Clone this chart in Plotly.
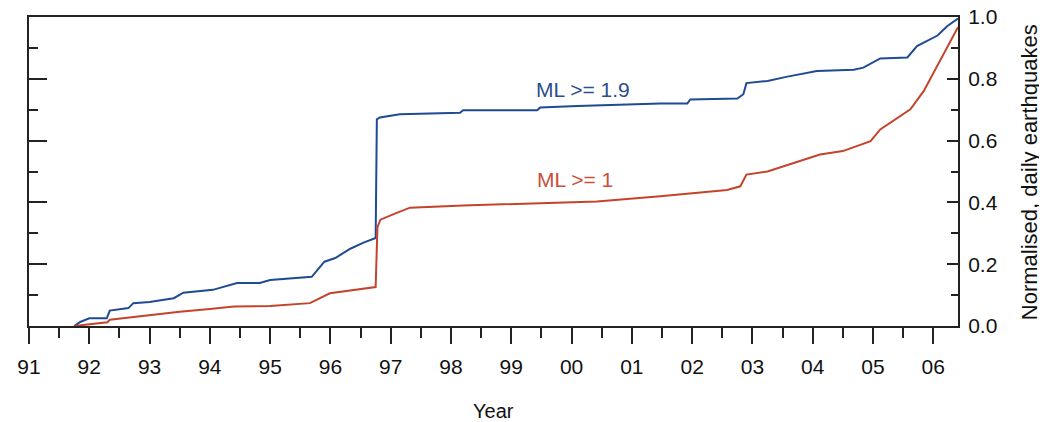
import plotly.graph_objects as go

# ML >= 1.9 (blue) cumulative normalised daily earthquakes
years_b = [1991.75, 1991.85, 1992.0, 1992.29, 1992.34, 1992.65, 1992.73, 1993.0, 1993.4, 1993.56,
           1994.05, 1994.45, 1994.83, 1995.0, 1995.69, 1995.9, 1996.08, 1996.33, 1996.55, 1996.75,
           1996.77, 1996.82, 1997.15, 1998.15, 1998.2, 1999.43, 1999.48, 2000.1, 2001.47, 2001.92,
           2001.97, 2002.75, 2002.85, 2002.9, 2003.25, 2003.58, 2004.07, 2004.68, 2004.84, 2005.12,
           2005.57, 2005.73, 2006.07, 2006.23, 2006.41]
vals_b = [0, 0.013, 0.025, 0.025, 0.05, 0.058, 0.074, 0.078, 0.09, 0.108,
          0.117, 0.139, 0.139, 0.149, 0.159, 0.208, 0.22, 0.25, 0.27, 0.285,
          0.669, 0.675, 0.685, 0.69, 0.698, 0.698, 0.707, 0.712, 0.72, 0.72,
          0.733, 0.736, 0.75, 0.786, 0.793, 0.807, 0.825, 0.829, 0.836, 0.866,
          0.869, 0.906, 0.94, 0.97, 0.995]

# ML >= 1 (red)
years_r = [1991.75, 1992.0, 1992.3, 1992.34, 1993.0, 1993.5, 1994.0, 1994.4, 1995.0, 1995.66,
           1995.99, 1996.33, 1996.75, 1996.78, 1996.83, 1997.1, 1997.32, 1998.2, 1999.3, 2000.42,
           2001.47, 2002.02, 2002.58, 2002.8, 2002.9, 2003.25, 2003.68, 2004.12, 2004.5, 2004.96,
           2005.12, 2005.62, 2005.84, 2006.07, 2006.28, 2006.41]
vals_r = [0, 0.006, 0.012, 0.02, 0.035, 0.046, 0.055, 0.063, 0.065, 0.074,
          0.106, 0.115, 0.126, 0.32, 0.344, 0.366, 0.383, 0.39, 0.396, 0.403,
          0.42, 0.431, 0.44, 0.452, 0.49, 0.5, 0.528, 0.555, 0.566, 0.598,
          0.636, 0.701, 0.76, 0.842, 0.918, 0.967]

x_tickvals = list(range(1991, 2007))
x_ticktext = ["91", "92", "93", "94", "95", "96", "97", "98", "99", "00", "01", "02", "03", "04", "05", "06"]
y_tickvals = [0.0, 0.2, 0.4, 0.6, 0.8, 1.0]
y_ticktext = ["0.0", "0.2", "0.4", "0.6", "0.8", "1.0"]

BLUE = "#1f4a94"
RED = "#c4432c"
AX = "#222222"
FONT = "Arial, Liberation Sans, sans-serif"

fig = go.Figure()
fig.add_trace(go.Scatter(x=years_b, y=vals_b, mode="lines", line=dict(color=BLUE, width=2),
                         yaxis="y", showlegend=False, hoverinfo="skip"))
fig.add_trace(go.Scatter(x=years_r, y=vals_r, mode="lines", line=dict(color=RED, width=2),
                         yaxis="y2", showlegend=False, hoverinfo="skip"))

fig.update_layout(
    width=1039, height=414,
    margin=dict(l=21, r=89, t=9, b=96, autoexpand=False),
    paper_bgcolor="white", plot_bgcolor="white",
    font=dict(family=FONT, size=21, color="#111"),
    xaxis=dict(range=[1991, 2006.41], tickmode="array", tickvals=x_tickvals, ticktext=x_ticktext,
               ticks="outside", ticklen=16, tickwidth=2, tickcolor=AX,
               minor=dict(tickmode="linear", tick0=1991.5, dtick=1, ticks="outside", ticklen=10,
                          tickwidth=2, tickcolor=AX),
               showline=True, linewidth=2, linecolor=AX, mirror=True, automargin=False,
               showgrid=False, zeroline=False, tickfont=dict(size=21), ticklabelstandoff=5,
               ticklabeloverflow="allow"),
    yaxis=dict(range=[0, 1], side="right", tickmode="array", tickvals=y_tickvals, ticktext=y_ticktext,
               ticks="inside", ticklen=11, tickwidth=2, tickcolor=AX,
               minor=dict(tickmode="linear", tick0=0.1, dtick=0.2, ticks="inside", ticklen=7,
                          tickwidth=2, tickcolor=AX),
               showline=True, linewidth=2, linecolor=AX, showgrid=False, zeroline=False,
               automargin=False, ticklabelstandoff=4, tickfont=dict(size=21),
               ticklabeloverflow="allow"),
    yaxis2=dict(range=[0, 1], side="left", overlaying="y", tickmode="array", tickvals=y_tickvals,
                ticks="inside", ticklen=18, tickwidth=2, tickcolor=AX, showticklabels=False,
                minor=dict(tickmode="linear", tick0=0.1, dtick=0.2, ticks="inside", ticklen=9,
                           tickwidth=2, tickcolor=AX),
                showline=True, linewidth=2, linecolor=AX, showgrid=False, zeroline=False,
                automargin=False),
    annotations=[
        dict(x=2000.19, y=0.766, xref="x", yref="y", text="ML >= 1.9", showarrow=False,
             font=dict(size=21, color="#2b4f8c")),
        dict(x=2000.06, y=0.474, xref="x", yref="y", text="ML >= 1", showarrow=False,
             font=dict(size=21, color="#c9503c")),
        dict(x=0.5005, y=-0.275, xref="paper", yref="paper", text="Year", showarrow=False,
             xanchor="center", yanchor="middle", font=dict(size=20, color="#111")),
        dict(x=1.0765, y=0.498, xref="paper", yref="paper", text="Normalised, daily earthquakes",
             showarrow=False, textangle=-90, xanchor="center", yanchor="middle",
             font=dict(size=22, color="#111")),
    ],
)

fig.write_html("out.html")
